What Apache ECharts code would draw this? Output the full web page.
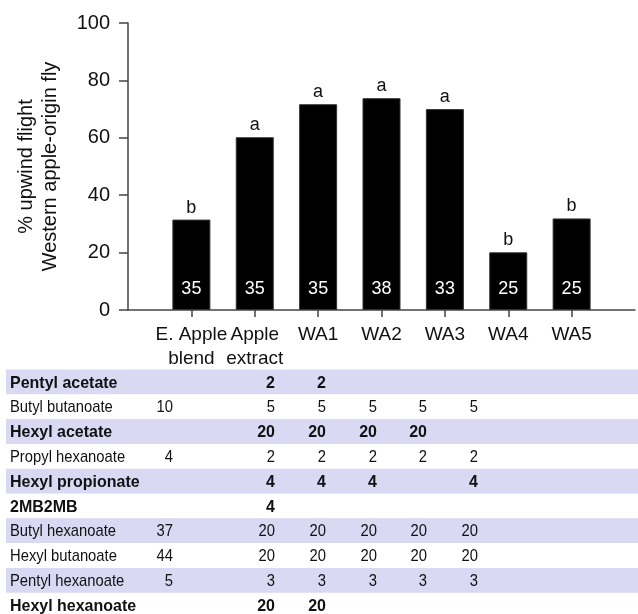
<!DOCTYPE html>
<html>
<head>
<meta charset="utf-8">
<script src="https://cdn.jsdelivr.net/npm/echarts@6/dist/echarts.min.js"></script>
<style>
html,body{margin:0;padding:0;background:#fff;}
#c{width:638px;height:614px;}
</style>
</head>
<body>
<div id="c"></div>
<script>
// ---- Data ----
var categories = ['E. Apple\nblend', 'Apple\nextract', 'WA1', 'WA2', 'WA3', 'WA4', 'WA5'];
var upwindPct = [31.5, 60.2, 71.7, 73.8, 70.0, 20.1, 31.9];
var sigLetters = ['b', 'a', 'a', 'a', 'a', 'b', 'b'];
var nFlies = [35, 35, 35, 38, 33, 25, 25];
var yTicks = [0, 20, 40, 60, 80, 100];

var compounds = ['Pentyl acetate', 'Butyl butanoate', 'Hexyl acetate', 'Propyl hexanoate',
  'Hexyl propionate', '2MB2MB', 'Butyl hexanoate', 'Hexyl butanoate', 'Pentyl hexanoate', 'Hexyl hexanoate'];
var boldCompounds = ['Pentyl acetate', 'Hexyl acetate', 'Hexyl propionate', '2MB2MB', 'Hexyl hexanoate'];
var colEAppleBlend = [null, 10, null, 4, null, null, 37, 44, 5, null];
var colAppleExtract = [null, null, null, null, null, null, null, null, null, null];
var colWA1 = [2, 5, 20, 2, 4, 4, 20, 20, 3, 20];
var colWA2 = [2, 5, 20, 2, 4, null, 20, 20, 3, 20];
var colWA3 = [null, 5, 20, 2, 4, null, 20, 20, 3, null];
var colWA4 = [null, 5, 20, 2, null, null, 20, 20, 3, null];
var colWA5 = [null, 5, null, 2, 4, null, 20, 20, 3, null];

// ---- Build ----
var FONT = '"Liberation Sans", Arial, sans-serif';
var axisCats = [''].concat(categories).concat(['']);
var barData = [null].concat(upwindPct).concat([null]);

var tableCols = [colEAppleBlend, colAppleExtract, colWA1, colWA2, colWA3, colWA4, colWA5];
var colRightX = [173, 224, 275, 326, 377, 427, 478];
var rowTop = 369.5, rowH = 24.8;
var graphics = [];
compounds.forEach(function (name, i) {
  var y = rowTop + i * rowH;
  var bold = boldCompounds.indexOf(name) >= 0;
  var font = bold ? 'bold 17px ' + FONT : '17px ' + FONT;
  var sx = bold ? 0.94 : 0.87;
  if (i % 2 === 0) {
    graphics.push({ type: 'rect', left: 6, top: y, silent: true, z: 0,
      shape: { width: 632, height: rowH }, style: { fill: '#d9d9f4' } });
  }
  graphics.push({ type: 'text', x: 10, y: y + rowH / 2 + 1, scaleX: sx, z: 2, silent: true,
    style: { text: name, font: font, fill: '#111',
      textVerticalAlign: 'middle', verticalAlign: 'middle' } });
  tableCols.forEach(function (col, j) {
    var v = col[i];
    if (v === null || v === undefined) return;
    graphics.push({ type: 'text', x: colRightX[j], y: y + rowH / 2 + 1, scaleX: sx, z: 2, silent: true,
      style: { text: String(v), font: font, fill: '#111',
        align: 'right', textAlign: 'right', verticalAlign: 'middle', textVerticalAlign: 'middle' } });
  });
});

var chart = echarts.init(document.getElementById('c'), null, { renderer: 'canvas' });
chart.setOption({
  animation: false,
  backgroundColor: '#fff',
  textStyle: { fontFamily: FONT },
  grid: { left: 128, right: 2, top: 23, bottom: 304, containLabel: false },
  xAxis: {
    type: 'category',
    data: axisCats,
    boundaryGap: false,
    axisLine: { lineStyle: { color: '#444', width: 1.5 } },
    axisTick: { show: true, length: 7, lineStyle: { color: '#444', width: 1.5 },
      interval: function (idx) { return idx >= 1 && idx <= categories.length; } },
    axisLabel: { interval: 0, color: '#111', fontSize: 19, lineHeight: 24, margin: 13, fontFamily: FONT },
    splitLine: { show: false }
  },
  yAxis: {
    type: 'value',
    min: yTicks[0], max: yTicks[yTicks.length - 1], interval: 20,
    name: '% upwind flight\nWestern apple-origin fly',
    nameLocation: 'middle',
    nameRotate: 90,
    nameGap: 66,
    nameTextStyle: { fontSize: 20, color: '#111', lineHeight: 24, fontFamily: FONT },
    axisLine: { show: true, lineStyle: { color: '#444', width: 1.5 } },
    axisTick: { show: true, length: 9, lineStyle: { color: '#444', width: 1.5 } },
    axisLabel: { color: '#111', fontSize: 20, margin: 18, fontFamily: FONT },
    splitLine: { show: false }
  },
  series: [
    {
      type: 'bar',
      data: barData,
      barWidth: 38,
      barGap: '-100%',
      itemStyle: { color: '#000', borderColor: '#333', borderWidth: 1 },
      label: { show: true, position: 'top', distance: 3, color: '#111', fontSize: 18, fontFamily: FONT,
        formatter: function (p) { return sigLetters[p.dataIndex - 1] || ''; } },
      z: 2
    },
    {
      type: 'bar',
      data: barData,
      barWidth: 38,
      barGap: '-100%',
      itemStyle: { color: 'rgba(0,0,0,0)' },
      label: { show: true, position: 'insideBottom', distance: 12, color: '#fff', fontSize: 18, fontFamily: FONT,
        formatter: function (p) { var n = nFlies[p.dataIndex - 1]; return n === undefined ? '' : String(n); } },
      z: 3
    }
  ],
  graphic: graphics
});
</script>
</body>
</html>
